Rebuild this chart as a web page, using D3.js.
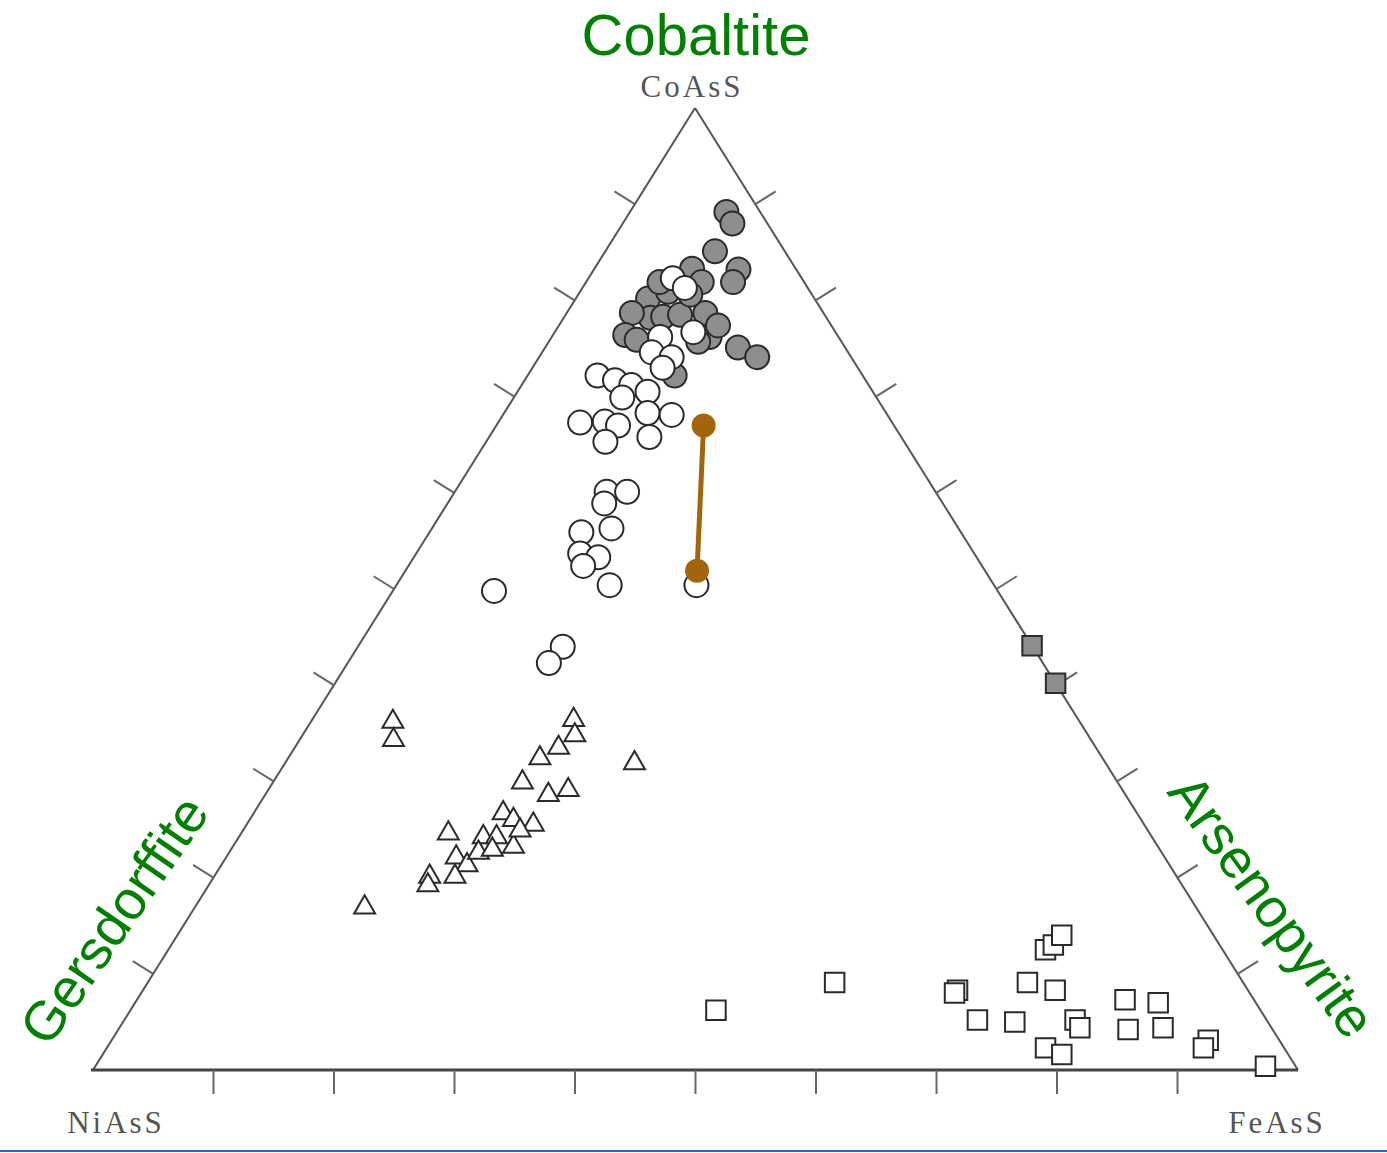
<!DOCTYPE html>
<html>
<head>
<meta charset="utf-8">
<script src="https://cdn.jsdelivr.net/npm/d3@7"></script>
<style>
  html, body { margin: 0; padding: 0; background: #fff; }
  svg { display: block; }
</style>
</head>
<body>
<svg id="chart" width="1387" height="1153"></svg>
<script>
// ---- DATA: ternary compositions [CoAsS, NiAsS, FeAsS] in % ----
const vertexLabels = ["CoAsS", "NiAsS", "FeAsS"];
const mineralLabels = ["Cobaltite", "Gersdorffite", "Arsenopyrite"];
const tickValues = [10, 20, 30, 40, 50, 60, 70, 80, 90];

const filledCircles = [
  [89.2, 2.8, 8.0], [88.0, 2.9, 9.1], [85.1, 5.8, 9.1], [83.2, 4.8, 12.0],
  [81.9, 5.9, 12.2], [83.3, 8.6, 8.1], [81.9, 8.5, 9.6], [80.2, 13.8, 6.0],
  [78.2, 14.6, 7.2], [78.7, 15.9, 5.4], [76.4, 17.6, 6.0], [75.9, 16.9, 7.2],
  [78.7, 9.8, 11.5], [76.2, 10.7, 13.1], [75.7, 11.9, 12.4], [75.1, 8.9, 16.0],
  [74.1, 7.8, 18.1], [72.2, 15.6, 12.2], [78.3, 13.5, 8.2], [78.5, 12.0, 9.5],
  [80.9, 11.8, 7.3], [81.9, 12.0, 6.1], [80.6, 10.1, 9.3], [77.4, 9.4, 13.2]
];

const openCircles = [
  [82.3, 10.7, 7.0], [81.3, 10.2, 8.5], [76.2, 14.8, 9.0], [76.7, 11.8, 11.5],
  [74.6, 16.3, 9.1], [74.1, 14.9, 11.0], [73.0, 16.2, 10.8],
  [72.2, 22.0, 5.8], [71.7, 20.8, 7.5], [71.2, 19.7, 9.1], [69.9, 21.1, 9.0],
  [70.5, 18.7, 10.8], [68.3, 19.8, 11.9], [68.1, 17.9, 14.0], [67.3, 25.9, 6.8],
  [67.4, 23.8, 8.8], [67.0, 22.9, 10.1], [65.3, 24.8, 9.9], [65.8, 20.9, 13.3],
  [60.1, 27.3, 12.6], [60.1, 25.6, 14.3], [58.9, 28.1, 13.0], [55.9, 31.5, 12.6],
  [56.3, 28.8, 14.9], [53.7, 32.7, 13.6], [53.3, 31.4, 15.3], [52.4, 33.1, 14.5],
  [50.4, 31.9, 17.7], [50.4, 24.7, 24.9], [49.8, 41.8, 8.4], [44.0, 39.0, 17.0],
  [42.3, 41.0, 16.7]
];

const triangles = [
  [36.2, 57.0, 6.8], [34.3, 57.9, 7.8], [36.4, 41.9, 21.7], [34.8, 42.6, 22.6],
  [33.5, 44.6, 21.9], [32.4, 46.7, 20.9], [29.9, 49.4, 20.7], [28.6, 47.9, 23.5],
  [29.1, 46.0, 24.9], [31.9, 39.1, 29.0], [24.6, 58.2, 17.2], [26.7, 52.6, 20.7],
  [26.0, 52.1, 21.9], [25.5, 50.7, 23.8], [24.2, 55.5, 20.3], [24.2, 54.4, 21.4],
  [22.1, 58.8, 19.1], [21.3, 58.3, 20.4], [22.6, 56.7, 20.7], [22.9, 55.4, 21.7],
  [23.2, 53.5, 23.3], [20.1, 62.0, 17.9], [20.1, 59.9, 20.0], [19.2, 62.6, 18.2],
  [16.9, 69.0, 14.1], [24.9, 52.1, 23.0]
];

const openSquares = [
  [6.2, 45.2, 48.6], [9.1, 33.9, 57.0], [8.3, 24.1, 67.6], [8.0, 24.5, 67.5],
  [9.1, 17.9, 73.0], [8.3, 16.0, 75.7], [12.5, 14.7, 72.8], [13.0, 13.8, 73.2],
  [14.0, 12.6, 73.4], [5.2, 24.0, 70.8], [5.0, 21.0, 74.0], [5.2, 15.9, 78.9],
  [4.4, 15.9, 79.7], [2.3, 19.8, 77.9], [1.6, 18.8, 79.6], [7.3, 10.7, 82.0],
  [7.0, 8.1, 84.9], [4.2, 12.0, 83.8], [4.4, 9.0, 86.6], [3.1, 5.9, 91.0],
  [2.3, 6.7, 91.0], [0.4, 2.5, 97.1]
];

const filledSquares = [
  [44.1, 0.0, 55.9], [40.2, 0.0, 59.8]
];

const tieLine = [
  [67.0, 15.8, 17.2], [51.9, 23.9, 24.2]
];

// ---- LAYOUT ----
const svg = d3.select("#chart");
const A = { x: 695, y: 108 };   // CoAsS apex
const B = { x: 93, y: 1070 };   // NiAsS
const C = { x: 1298, y: 1070 }; // FeAsS
const frac = d3.scaleLinear().domain([0, 100]).range([0, 1]);
function project(d) {
  const a = frac(d[0]), b = frac(d[1]), c = frac(d[2]);
  return [A.x * a + B.x * b + C.x * c, A.y * a + B.y * b + C.y * c];
}

svg.append("rect").attr("width", 1387).attr("height", 1153).attr("fill", "#fff");

// Triangle frame
const g = svg.append("g");
g.append("line").attr("x1", A.x).attr("y1", A.y).attr("x2", B.x).attr("y2", B.y)
  .attr("stroke", "#555").attr("stroke-width", 2);
g.append("line").attr("x1", A.x).attr("y1", A.y).attr("x2", C.x).attr("y2", C.y)
  .attr("stroke", "#555").attr("stroke-width", 2);
g.append("line").attr("x1", B.x - 2).attr("y1", B.y).attr("x2", C.x).attr("y2", C.y)
  .attr("stroke", "#444").attr("stroke-width", 3);

// Ticks
const tickLen = 24;
function perp(p1, p2, outwardSign) {
  const dx = p2.x - p1.x, dy = p2.y - p1.y, L = Math.hypot(dx, dy);
  return [outwardSign * dy / L, -outwardSign * dx / L];
}
// bottom
tickValues.forEach(t => {
  const p = project([0, 100 - t, t]);
  g.append("line").attr("x1", p[0]).attr("y1", p[1]).attr("x2", p[0]).attr("y2", p[1] + tickLen)
    .attr("stroke", "#666").attr("stroke-width", 2);
});
// left edge (outward = up-left)
const nL = perp(B, A, 1);
tickValues.forEach(t => {
  const p = project([t, 100 - t, 0]);
  g.append("line").attr("x1", p[0]).attr("y1", p[1])
    .attr("x2", p[0] + nL[0] * tickLen).attr("y2", p[1] + nL[1] * tickLen)
    .attr("stroke", "#666").attr("stroke-width", 2);
});
// right edge (outward = up-right)
const nR = perp(A, C, 1);
tickValues.forEach(t => {
  const p = project([t, 0, 100 - t]);
  g.append("line").attr("x1", p[0]).attr("y1", p[1])
    .attr("x2", p[0] + nR[0] * tickLen).attr("y2", p[1] + nR[1] * tickLen)
    .attr("stroke", "#666").attr("stroke-width", 2);
});

// Markers
const markStroke = "#2a2a2a";
function drawSymbols(data, type, size, fill) {
  g.append("g").selectAll("path").data(data).join("path")
    .attr("d", d3.symbol(type, size))
    .attr("transform", d => { const p = project(d); return `translate(${p[0]},${p[1]})`; })
    .attr("fill", fill).attr("stroke", markStroke).attr("stroke-width", 2);
}
drawSymbols(openSquares, d3.symbolSquare, 380, "#fff");
drawSymbols(filledSquares, d3.symbolSquare, 380, "#8e8e8e");
drawSymbols(triangles, d3.symbolTriangle, 190, "#fff");
drawSymbols(filledCircles, d3.symbolCircle, Math.PI * 12 * 12, "#8e8e8e");
drawSymbols(openCircles, d3.symbolCircle, Math.PI * 12 * 12, "#fff");

// Tie line
const brown = "#a3650b";
const line = d3.line().x(d => project(d)[0]).y(d => project(d)[1]);
g.append("path").datum(tieLine).attr("d", line)
  .attr("stroke", brown).attr("stroke-width", 5).attr("fill", "none");
g.append("g").selectAll("circle").data(tieLine).join("circle")
  .attr("cx", d => project(d)[0]).attr("cy", d => project(d)[1])
  .attr("r", 12).attr("fill", brown);

// Vertex labels (serif, gray)
const vtxPos = [[A.x - 3, 97], [B.x + 23, 1133], [C.x - 21, 1133]];
vertexLabels.forEach((t, i) => {
  svg.append("text").attr("x", vtxPos[i][0]).attr("y", vtxPos[i][1])
    .attr("text-anchor", "middle")
    .attr("font-family", "'Liberation Serif', 'DejaVu Serif', serif")
    .attr("font-size", 31).attr("letter-spacing", 3).attr("fill", "#555")
    .text(t);
});

// Mineral labels (green)
const green = "#008000";
svg.append("text").attr("x", 696).attr("y", 55).attr("text-anchor", "middle")
  .attr("font-family", "'Liberation Sans', Arial, sans-serif").attr("font-size", 58)
  .attr("fill", green).text(mineralLabels[0]);
svg.append("text").attr("transform", "translate(114,920) rotate(-55.5)")
  .attr("text-anchor", "middle").attr("dominant-baseline", "central")
  .attr("font-family", "'Liberation Sans', Arial, sans-serif").attr("font-size", 55)
  .attr("fill", green).text(mineralLabels[1]);
svg.append("text").attr("transform", "translate(1272,906) rotate(54)")
  .attr("text-anchor", "middle").attr("dominant-baseline", "central")
  .attr("font-family", "'Liberation Sans', Arial, sans-serif").attr("font-size", 55)
  .attr("fill", green).text(mineralLabels[2]);

// Bottom blue rule
svg.append("line").attr("x1", 0).attr("x2", 1387).attr("y1", 1151).attr("y2", 1151)
  .attr("stroke", "#2f62e0").attr("stroke-width", 2);
</script>
</body>
</html>
